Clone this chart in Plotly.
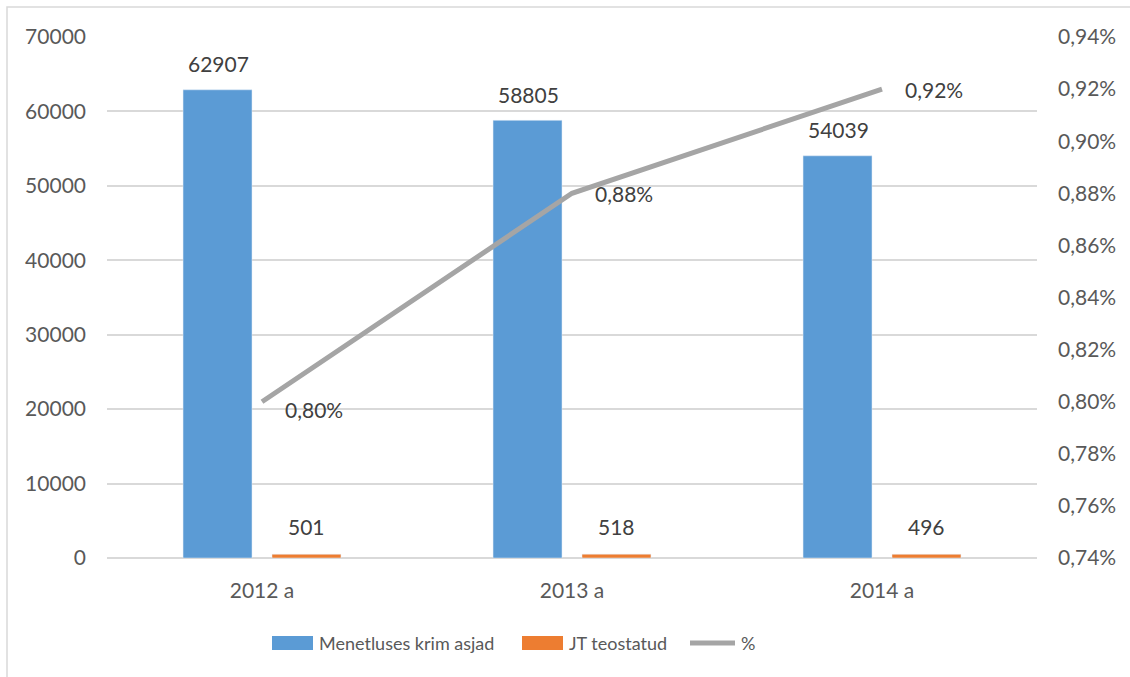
import plotly.graph_objects as go

categories = ["2012 a", "2013 a", "2014 a"]
menetluses = [62907, 58805, 54039]
jt_teostatud = [501, 518, 496]
percent = [0.0080, 0.0088, 0.0092]

left_ticks = [0, 10000, 20000, 30000, 40000, 50000, 60000, 70000]
right_ticks = [0.0074, 0.0076, 0.0078, 0.0080, 0.0082, 0.0084, 0.0086, 0.0088, 0.0090, 0.0092, 0.0094]

FONT = "Lato"
FS = 21
LEG_FS = 18
TXT = "#595959"
LBL = "#404040"
BLUE, ORANGE, GRAY = "#5B9BD5", "#ED7D31", "#A5A5A5"

# plot area geometry (px)
L, R, T, B = 107, 1037, 37, 558
W, H = R - L, B - T
def px(x):
    return (x - L) / W
def py(y):
    return (B - y) / H

fig = go.Figure()
fig.add_trace(go.Bar(x=categories, y=menetluses, name="Menetluses krim asjad",
                     marker_color=BLUE, showlegend=False))
fig.add_trace(go.Bar(x=categories, y=jt_teostatud, name="JT teostatud",
                     marker_color=ORANGE, showlegend=False))
fig.add_trace(go.Scatter(x=categories, y=percent, name="%", yaxis="y2", mode="lines",
                         line=dict(color=GRAY, width=5), showlegend=False))

annotations = []
for c, v in zip(categories, menetluses):
    annotations.append(dict(x=c, y=v, xref="x", yref="y", text=str(v), showarrow=False,
                            xshift=-44, yshift=26, font=dict(size=FS, color=LBL)))
for c, v in zip(categories, jt_teostatud):
    annotations.append(dict(x=c, y=v, xref="x", yref="y", text=str(v), showarrow=False,
                            xshift=44, yshift=28, font=dict(size=FS, color=LBL)))
for i, (c, p) in enumerate(zip(categories, percent)):
    annotations.append(dict(x=c, y=p, xref="x", yref="y2",
                            text=f"{p*100:.2f}%".replace(".", ","), showarrow=False,
                            xanchor="left", xshift=21, yshift=(-8 if i == 0 else 0),
                            font=dict(size=FS, color=LBL)))

# custom legend
leg_y = 643
legend_items = [("Menetluses krim asjad", BLUE, 272, 313, "rect"),
                ("JT teostatud", ORANGE, 522, 563, "rect"),
                ("%", GRAY, 690, 735, "line")]
shapes = [dict(type="rect", xref="paper", yref="paper",
               x0=px(7), x1=px(1140), y0=py(700), y1=py(7),
               line=dict(color="#D9D9D9", width=1.5), layer="below")]
for name, col, x0, x1, kind in legend_items:
    if kind == "rect":
        shapes.append(dict(type="rect", xref="paper", yref="paper",
                           x0=px(x0), x1=px(x1), y0=py(leg_y + 7), y1=py(leg_y - 7),
                           fillcolor=col, line=dict(width=0)))
    else:
        shapes.append(dict(type="line", xref="paper", yref="paper",
                           x0=px(x0), x1=px(x1), y0=py(leg_y), y1=py(leg_y),
                           line=dict(color=col, width=5)))
    annotations.append(dict(x=px(x1 + 4), y=py(leg_y), xref="paper", yref="paper",
                            text=name, showarrow=False, xanchor="left", yanchor="middle",
                            font=dict(size=LEG_FS, color=TXT)))

fig.update_layout(
    width=1130, height=677,
    margin=dict(l=L, r=1130 - R, t=T, b=677 - B),
    paper_bgcolor="white", plot_bgcolor="white",
    font=dict(family=FONT, size=FS, color=TXT),
    separators=",.",
    barmode="group", bargap=0.426, bargroupgap=0.225,
    showlegend=False,
    xaxis=dict(showgrid=False, showline=False, ticks="", tickfont=dict(size=FS, color=TXT),
               ticklabelstandoff=18),
    yaxis=dict(range=[0, 70000], tickvals=left_ticks, tickformat="d",
               showgrid=True, gridcolor="#D9D9D9", gridwidth=2, zeroline=True,
               zerolinecolor="#D9D9D9", zerolinewidth=2, showline=False,
               tickfont=dict(size=FS, color=TXT), ticklabelstandoff=20),
    yaxis2=dict(range=[0.0074, 0.0094], tickvals=right_ticks, tickformat=".2%",
                overlaying="y", side="right", showgrid=False, zeroline=False,
                showline=False, tickfont=dict(size=FS, color=TXT), ticklabelstandoff=20),
    shapes=shapes,
    annotations=annotations,
)

fig.write_html("out.html", config={"displayModeBar": False},
               post_script="document.body.style.margin='0';")
